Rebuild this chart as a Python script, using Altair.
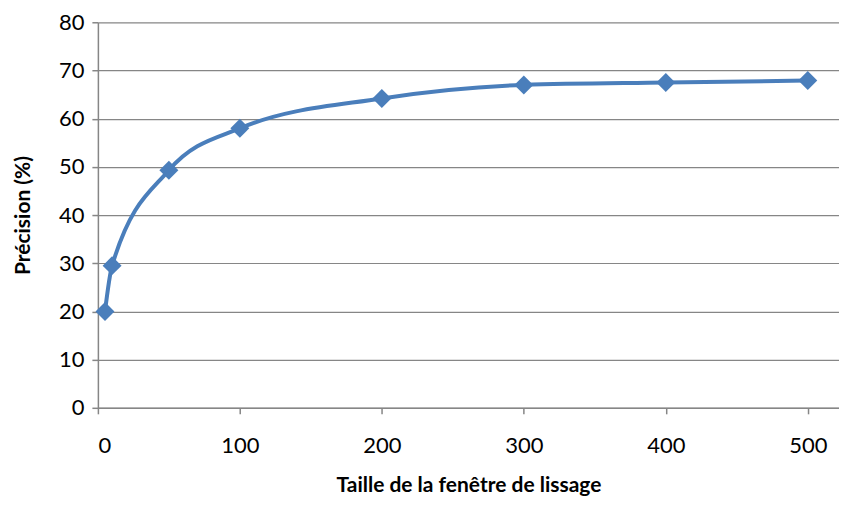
import altair as alt
import pandas as pd

window = [5, 10, 50, 100, 200, 300, 400, 500]
precision = [20.0, 29.5, 49.3, 58.0, 64.2, 67.0, 67.5, 67.9]
x_ticks = [0, 100, 200, 300, 400, 500]
y_ticks = [0, 10, 20, 30, 40, 50, 60, 70, 80]

df = pd.DataFrame({"w": window, "p": precision})

FONT = "Lato"
COLOR = "#4A7EBB"

x = alt.X("w:Q", scale=alt.Scale(domain=[0, 522], nice=False),
          axis=alt.Axis(values=x_ticks, title="Taille de la fenêtre de lissage",
                        grid=False, tickSize=6, labelPadding=22, titlePadding=18))
y = alt.Y("p:Q", scale=alt.Scale(domain=[0, 80], nice=False),
          axis=alt.Axis(values=y_ticks, title="Précision (%)", grid=True,
                        tickSize=6, labelPadding=8, titlePadding=25))

line = alt.Chart(df).mark_line(color=COLOR, strokeWidth=4, interpolate="monotone").encode(x=x, y=y)
pts = alt.Chart(df).mark_point(shape="diamond", filled=True, size=360, color=COLOR, opacity=1).encode(x=x, y=y)

chart = (line + pts).properties(
    width=742, height=386,
    autosize=alt.AutoSizeParams(type="none"),
    padding={"left": 90, "top": 14, "right": 0, "bottom": 90},
).configure_view(stroke=None).configure_axis(
    domainColor="#868686", tickColor="#868686", gridColor="#868686",
    domainWidth=1.5, tickWidth=1.5, gridWidth=1.2,
    labelFont=FONT, titleFont=FONT, labelFontSize=22, titleFontSize=21,
    labelColor="#000000", titleColor="#000000", titleFontWeight="bold",
)

chart.save("out.html", embed_options={"renderer": "svg", "actions": False})
